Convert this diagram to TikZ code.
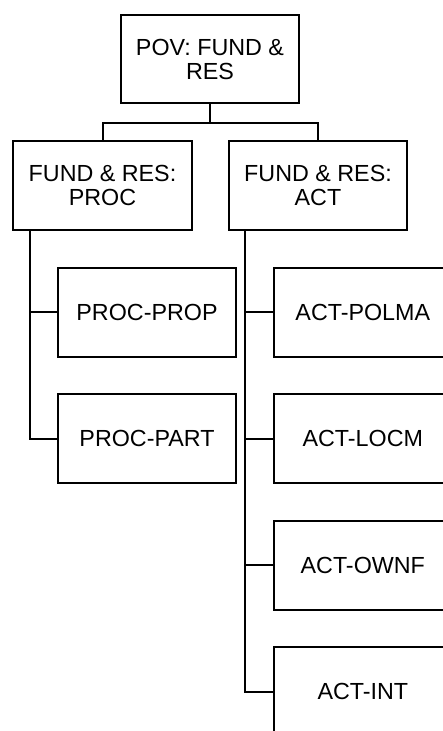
\documentclass[tikz,border=0pt]{standalone}
\usepackage{fontspec}
\setmainfont{Liberation Sans}
\begin{document}
\begin{tikzpicture}[x=1pt,y=-1pt,
  box/.style={draw=black,line width=2pt,rectangle,minimum width=178.6pt,minimum height=89pt,inner sep=0pt,align=center,font=\fontsize{23.3}{24.4}\selectfont},
  conn/.style={draw=black,line width=2pt}]
\useasboundingbox (0,0) rectangle (443,731);
\clip (0,0) rectangle (443,731);
\node[box,minimum height=88.3pt] (top) at (210,59.2) {POV: FUND \&\\RES};
\node[box] (L) at (102.5,185.3) {FUND \& RES:\\PROC};
\node[box] (R) at (318,185.3) {FUND \& RES:\\ACT};
\node[box] (pprop) at (147,312) {PROC-PROP};
\node[box] (ppart) at (147,438.7) {PROC-PART};
\node[box] (apolma) at (362.8,312) {ACT-POLMA};
\node[box] (alocm) at (362.8,438.7) {ACT-LOCM};
\node[box] (aownf) at (362.8,565.2) {ACT-OWNF};
\node[box] (aint) at (362.8,691.5) {ACT-INT};
\coordinate (bus) at (210,122.7);
\draw[conn] (top.south) -- (bus);
\draw[conn] (L.north) |- (bus) -| (R.north);
\coordinate (lt) at ([xshift=17.7pt]L.south west);
\coordinate (rt) at ([xshift=17.5pt]R.south west);
\draw[conn] (lt) |- (ppart.west);
\draw[conn] (lt |- pprop.west) -- (pprop.west);
\draw[conn] (rt) |- (aint.west);
\draw[conn] (rt |- apolma.west) -- (apolma.west);
\draw[conn] (rt |- alocm.west) -- (alocm.west);
\draw[conn] (rt |- aownf.west) -- (aownf.west);
\end{tikzpicture}
\end{document}
